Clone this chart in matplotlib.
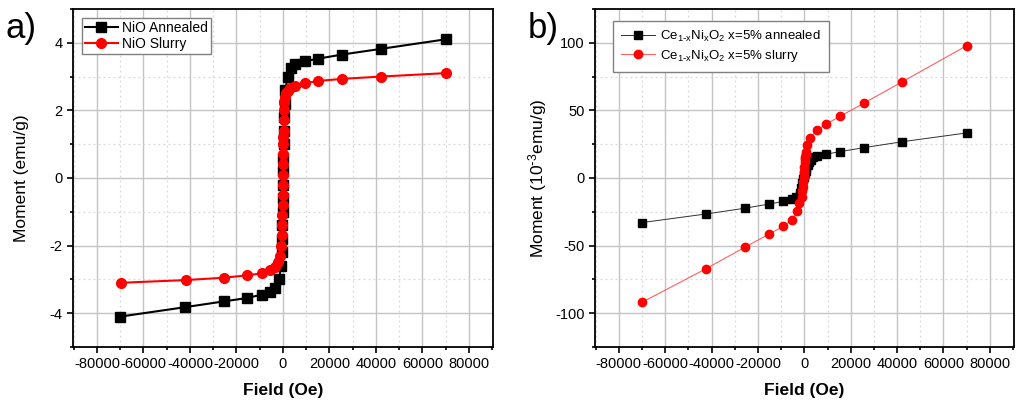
import matplotlib
matplotlib.use("Agg")
import matplotlib.pyplot as plt
from matplotlib.ticker import MultipleLocator

plt.rcParams['font.family'] = ['Liberation Sans', 'DejaVu Sans']
plt.rcParams['axes.unicode_minus'] = False
plt.rcParams['mathtext.default'] = 'regular'

# panel a) NiO
nio_ann_field = [-70000, -42000, -25400, -15400, -9100, -5500, -3300, -1700, -800,
                 -500, -350, -250, -150, -80, 0, 80, 150, 250, 350, 500, 800,
                 1000, 2100, 3300, 5400, 9300, 15300, 25500, 42400, 70000]
nio_ann_moment = [-4.1, -3.82, -3.65, -3.55, -3.45, -3.37, -3.25, -3.0, -2.6,
                  -2.2, -1.8, -1.4, -1.0, -0.6, -0.2, 0.2, 0.6, 1.0, 1.4, 1.8, 2.2,
                  2.6, 3.0, 3.25, 3.38, 3.45, 3.53, 3.65, 3.82, 4.1]

nio_sl_field = [-69800, -41900, -25400, -15400, -9100, -5500, -3200, -2200, -1100,
                -800, -500, -350, -250, -150, -100, -50, 0, 50, 100, 150, 200, 250,
                300, 400, 500, 600, 1000, 1300, 2000, 3200, 5400, 9300, 15300, 25500,
                42400, 70000]
nio_sl_moment = [-3.1, -3.02, -2.95, -2.88, -2.82, -2.73, -2.62, -2.48, -2.3,
                 -2.0, -1.7, -1.4, -1.1, -0.8, -0.5, -0.2, 0.1, 0.4, 0.7, 1.0, 1.2,
                 1.4, 1.7, 2.0, 2.25, 2.25, 2.4, 2.5, 2.58, 2.65, 2.73, 2.8, 2.87,
                 2.93, 3.0, 3.1]

# panel b) Ce1-xNixO2, moment in 1e-3 emu/g
ce_ann_field = [-70000, -42300, -25400, -15300, -9000, -5500, -3400, -2000, -1300,
                -900, -600, -300, 0, 300, 600, 900, 1600, 2000, 3000, 3700, 5400,
                9200, 15300, 25600, 42300, 70000]
ce_ann_moment = [-33.0, -26.6, -22.3, -19.3, -17.3, -15.8, -14.0, -11.3, -7.6,
                 -3.9, -1.0, 0.5, 2.0, 3.5, 5.0, 7.0, 9.6, 11.5, 13.3, 15.3, 16.3,
                 17.6, 19.4, 22.4, 26.8, 33.3]

ce_sl_field = [-70000, -42300, -25400, -15300, -9000, -5400, -3300, -2100, -1200,
               -900, -700, -500, -300, -100, 0, 100, 300, 450, 600, 860, 1300,
               2600, 5400, 9300, 15300, 25600, 42300, 70000]
ce_sl_moment = [-91.9, -67.0, -51.0, -41.6, -35.7, -31.0, -24.6, -18.2, -13.8,
                -10.0, -6.4, -2.7, 1.0, 4.7, 8.4, 12.0, 14.0, 15.8, 17.5, 19.5, 24.0,
                29.5, 35.2, 39.8, 45.5, 55.2, 71.2, 97.8]

fig = plt.figure(figsize=(10.24, 4.04), dpi=100)
ax1 = fig.add_axes([0.0713, 0.141, 0.410, 0.837])
ax2 = fig.add_axes([0.581, 0.141, 0.409, 0.837])


def style(ax, ylim, ymaj, ymin):
    ax.set_xlim(-90300, 90300)
    ax.set_ylim(*ylim)
    ax.xaxis.set_major_locator(MultipleLocator(20000))
    ax.xaxis.set_minor_locator(MultipleLocator(10000))
    ax.yaxis.set_major_locator(MultipleLocator(ymaj))
    ax.yaxis.set_minor_locator(MultipleLocator(ymin))
    ax.grid(True, which='major', color='#c4c4c4', lw=1.0)
    ax.grid(True, which='minor', color='#d8d8d8', lw=0.9, ls=(0, (1.5, 2.5)))
    ax.set_axisbelow(True)
    ax.tick_params(which='both', direction='out', labelsize=10.5, width=1.2)
    ax.tick_params(which='major', length=4)
    ax.tick_params(which='minor', length=2.5)
    for s in ax.spines.values():
        s.set_linewidth(1.3)
    ax.set_xlabel('Field (Oe)', fontsize=12.5, fontweight='bold', labelpad=8)


ax1.plot(nio_ann_field, nio_ann_moment, color='black', lw=1.5, marker='s',
         ms=6.5, label='NiO Annealed')
ax1.plot(nio_sl_field, nio_sl_moment, color='#ff0000', lw=1.5, marker='o',
         ms=7, label='NiO Slurry')
style(ax1, (-5, 5), 2, 1)
ax1.set_ylabel('Moment (emu/g)', fontsize=12.5, labelpad=15)
ax1.legend(loc='upper left', bbox_to_anchor=(0.021, 0.972), borderaxespad=0,
           fancybox=False, edgecolor='#808080', framealpha=1, fontsize=10,
           handlelength=2.4, handletextpad=0.3, borderpad=0.2, labelspacing=0.15)

ax2.plot(ce_ann_field, ce_ann_moment, color='#303030', lw=0.7, marker='s',
         ms=5.2, mfc='black', mec='black',
         label=r'Ce$_{1\text{-}x}$Ni$_x$O$_2$ x=5% annealed')
ax2.plot(ce_sl_field, ce_sl_moment, color='#ff6060', lw=0.8, marker='o',
         ms=6, mfc='#ff0000', mec='#ff0000',
         label=r'Ce$_{1\text{-}x}$Ni$_x$O$_2$ x=5% slurry')
style(ax2, (-125, 125), 50, 25)
ax2.set_ylabel(r'Moment (10$^{\text{-}3}$emu/g)', fontsize=12.5, labelpad=4)
ax2.legend(loc='upper left', bbox_to_anchor=(0.043, 0.965), borderaxespad=0,
           fancybox=False, edgecolor='#808080', framealpha=1, fontsize=9.5,
           handlelength=2.6, handletextpad=0.4, borderpad=0.6, labelspacing=0.3)

fig.text(0.005, 0.905, 'a)', fontsize=25)
fig.text(0.515, 0.905, 'b)', fontsize=25)

fig.savefig('out.png', dpi=100)
